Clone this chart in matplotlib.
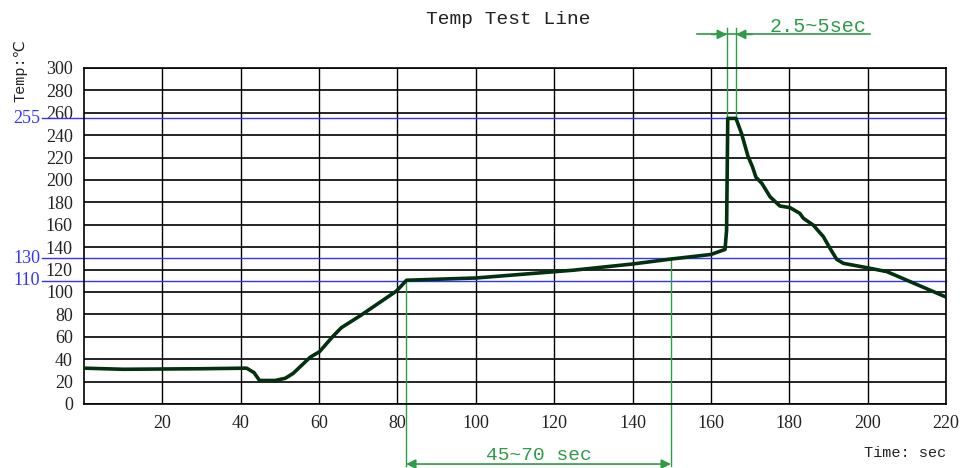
import matplotlib
matplotlib.use("Agg")
import matplotlib.pyplot as plt

# reflow profile (time in s, temperature in C)
time_s = [0, 10, 30, 41.5, 43.4, 44.8, 48.8, 51.4, 53.4, 57.7, 60.1, 63.6, 65.7, 70.4,
          79.8, 82.3, 100, 125, 140, 150, 160, 163.6, 164.0, 164.3, 166.4, 167.8,
          169.5, 170.6, 171.5, 173.0, 175.1, 177.6, 180.2, 182.7, 183.6, 186.1,
          188.7, 190.4, 192.1, 193.8, 199.8, 204.9, 219.8]
temp_c = [32, 31, 31.5, 32, 28, 21, 21, 23, 27.4, 41.7, 46.7, 60.7, 68.2, 78.6,
          101, 110.5, 112.5, 119.5, 125, 129.5, 133.5, 138, 155, 255, 255, 241.7,
          220.8, 211.9, 202.4, 197, 185, 176.8, 175.3, 170.2, 165.8, 159.8,
          149.4, 139, 129.2, 125.6, 121.7, 118.2, 95.8]

x_ticks = [20, 40, 60, 80, 100, 120, 140, 160, 180, 200, 220]
y_ticks = [0, 20, 40, 60, 80, 100, 120, 140, 160, 180, 200, 220, 240, 260, 280, 300]
ref_temps = [255, 130, 110]
soak_window = [82.2, 149.8]
soak_temps = [110, 130]
peak_window = [164.1, 166.4]

mono = ["Liberation Mono", "DejaVu Sans"]
serif = "Liberation Serif"
green = "#2e9b46"
blue = "#3333ff"

fig = plt.figure(figsize=(9.6, 4.68), dpi=100)
ax = fig.add_axes([84 / 960, 64 / 468, 862 / 960, 336 / 468])
ax.set_xlim(0, 220)
ax.set_ylim(0, 300)

for x in x_ticks:
    ax.axvline(x, color="black", lw=1, zorder=1)
for y in y_ticks:
    ax.axhline(y, color="black", lw=1.2, zorder=1)

for sp in ax.spines.values():
    sp.set_linewidth(1.2)

ax.set_xticks(x_ticks)
ax.set_yticks(y_ticks)
ax.tick_params(length=0, pad=8)
for lab in ax.get_xticklabels() + ax.get_yticklabels():
    lab.set_fontfamily(serif)
    lab.set_fontsize(13)
    lab.set_color("#222222")

# reference temperature lines
for t in ref_temps:
    ax.plot([-10.7, 220], [t, t], color=blue, lw=1, clip_on=False, zorder=2)
    ax.text(-11.2, t, str(t), color=blue, fontsize=13, family=serif,
            ha="right", va="center")

# profile curve
ax.plot(time_s, temp_c, color="#03300f", lw=2.6, zorder=4, solid_joinstyle="round")

# soak window annotation
for x, t in zip(soak_window, soak_temps):
    ax.plot([x, x], [t, -55], color=green, lw=1, clip_on=False, zorder=2)
ax.annotate("", xy=(soak_window[0], -53.6), xytext=(soak_window[1], -53.6),
            xycoords="data", annotation_clip=False,
            arrowprops=dict(arrowstyle="<|-|>", color=green, lw=1.2,
                            mutation_scale=14, shrinkA=0, shrinkB=0))
ax.text(sum(soak_window) / 2, -46, "45~70 sec", color=green, fontsize=14,
        family=mono, ha="center", va="center")

# peak window annotation
for x in peak_window:
    ax.plot([x, x], [335.7, 255], color=green, lw=1, clip_on=False, zorder=2)
ax.plot([156.5, 200.6], [330, 330], color=green, lw=1.2, clip_on=False)
ax.annotate("", xy=(peak_window[0], 330), xytext=(160.2, 330),
            annotation_clip=False,
            arrowprops=dict(arrowstyle="-|>", color=green, lw=1.2,
                            mutation_scale=14, shrinkA=0, shrinkB=0))
ax.annotate("", xy=(peak_window[1], 330), xytext=(170.5, 330),
            annotation_clip=False,
            arrowprops=dict(arrowstyle="-|>", color=green, lw=1.2,
                            mutation_scale=14, shrinkA=0, shrinkB=0))
ax.text(175, 337, "2.5~5sec", color=green, fontsize=14.5, family=mono,
        ha="left", va="center")

fig.text(508 / 960, 1 - 20 / 468, "Temp Test Line", fontsize=14, family=mono,
         ha="center", va="center", color="#222222")
fig.text(20 / 960, 1 - 71 / 468, "Temp:\u2103", fontsize=11, family=mono,
         rotation=90, ha="center", va="center", color="#222222")
fig.text(946 / 960, 1 - 453 / 468, "Time: sec", fontsize=11, family=mono,
         ha="right", va="center", color="#222222")

fig.savefig("out.png", dpi=100)
